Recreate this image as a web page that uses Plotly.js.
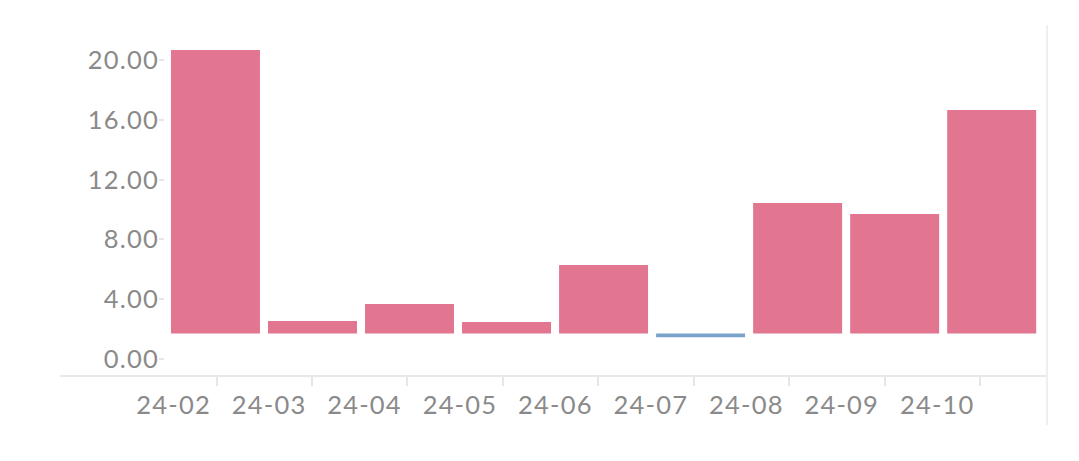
<!DOCTYPE html>
<html><head><meta charset="utf-8">
<script src="https://cdn.plot.ly/plotly-3.0.1.min.js"></script>
<style>html,body{margin:0;padding:0;background:#fff}#chart{width:1079px;height:461px}
#chart .xtick text, #chart .ytick text, #chart .x2tick text{letter-spacing:1.2px}</style>
</head><body><div id="chart"></div>
<script>
const months = ['24-02','24-03','24-04','24-05','24-06','24-07','24-08','24-09','24-10'];
const totals = [20.67, 2.54, 3.68, 2.47, 6.29, 1.45, 10.43, 9.70, 16.66];
const baseline = 1.70;
const yTicks = [0, 4, 8, 12, 16, 20];

const idx = months.map((m, i) => i);
const deltas = totals.map(v => v - baseline);
const colors = deltas.map(d => d >= 0 ? '#E2758F' : '#7AA3CB');

const font = {family: 'Lato, "Open Sans", sans-serif', size: 25.5, color: '#8a8a8a'};

const traces = [
  {type: 'bar', x: idx, y: deltas, base: baseline, marker: {color: colors, line: {width: 0}},
   xaxis: 'x', yaxis: 'y', hoverinfo: 'skip', showlegend: false},
  {type: 'scatter', mode: 'markers', x: idx, y: idx.map(() => null), xaxis: 'x2', yaxis: 'y',
   hoverinfo: 'skip', showlegend: false}
];

const layout = {
  width: 1079, height: 461,
  margin: {l: 165, r: 32, t: 25, b: 85},
  paper_bgcolor: '#fff', plot_bgcolor: '#fff',
  bargap: 0.083,
  font: font,
  xaxis: {range: [-0.52, 8.57], showticklabels: false, ticks: '', showgrid: false, zeroline: false, showline: false},
  xaxis2: {overlaying: 'x', anchor: 'y', side: 'bottom', range: [-0.09, 9.15],
    tickmode: 'array', tickvals: idx, ticktext: months, ticks: '', tickfont: font,
    ticklabelstandoff: 11,
    minor: {tickmode: 'array', tickvals: idx.map(i => i + 0.45), ticks: 'outside', ticklen: 9, tickwidth: 2, tickcolor: '#e6e6e6', showgrid: false},
    showgrid: false, zeroline: false, showline: false},
  yaxis: {range: [-1.14, 22.34], tickmode: 'array', tickvals: yTicks, tickformat: '.2f',
    ticks: 'outside', ticklen: 5, tickwidth: 2, tickcolor: '#e6e6e6', tickfont: font,
    ticklabelstandoff: -5, showgrid: false, zeroline: false, showline: false},
  shapes: [
    {type: 'line', xref: 'paper', yref: 'paper', x0: -0.119, x1: 1, y0: 0, y1: 0, line: {color: '#e8e8e8', width: 2}},
    {type: 'line', xref: 'paper', yref: 'paper', x0: 1, x1: 1, y0: -0.14, y1: 1, line: {color: '#efefef', width: 2}}
  ]
};

Plotly.newPlot('chart', traces, layout, {displayModeBar: false, staticPlot: true});
</script></body></html>
